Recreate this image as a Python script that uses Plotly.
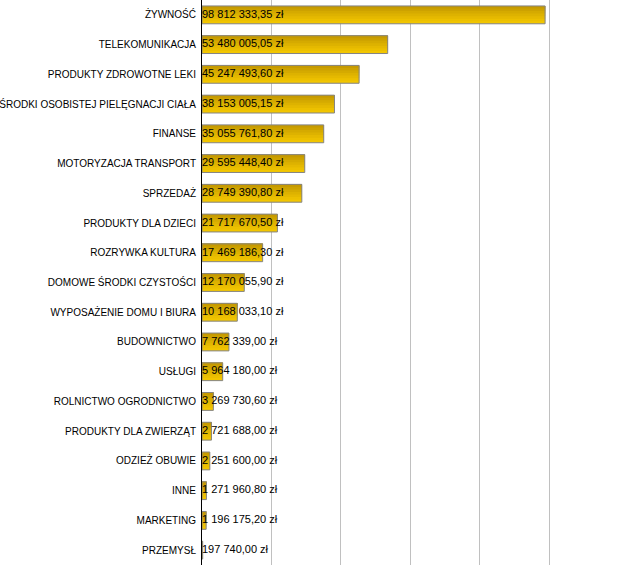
import plotly.graph_objects as go

categories = ["ŻYWNOŚĆ", "TELEKOMUNIKACJA", "PRODUKTY ZDROWOTNE LEKI",
              "ŚRODKI OSOBISTEJ PIELĘGNACJI CIAŁA", "FINANSE",
              "MOTORYZACJA TRANSPORT", "SPRZEDAŻ", "PRODUKTY DLA DZIECI",
              "ROZRYWKA KULTURA", "DOMOWE ŚRODKI CZYSTOŚCI",
              "WYPOSAŻENIE DOMU I BIURA", "BUDOWNICTWO", "USŁUGI",
              "ROLNICTWO OGRODNICTWO", "PRODUKTY DLA ZWIERZĄT", "ODZIEŻ OBUWIE",
              "INNE", "MARKETING", "PRZEMYSŁ"]
values = [98812333.35, 53480005.05, 45247493.60, 38153005.15, 35055761.80,
          29595448.40, 28749390.80, 21717670.50, 17469186.30, 12170055.90,
          10168033.10, 7762339.00, 5964180.00, 3269730.60, 2721688.00,
          2251600.00, 1271960.80, 1196175.20, 197740.00]
labels = ["98 812 333,35 zł", "53 480 005,05 zł", "45 247 493,60 zł",
          "38 153 005,15 zł", "35 055 761,80 zł", "29 595 448,40 zł",
          "28 749 390,80 zł", "21 717 670,50 zł", "17 469 186,30 zł",
          "12 170 055,90 zł", "10 168 033,10 zł", "7 762 339,00 zł",
          "5 964 180,00 zł", "3 269 730,60 zł", "2 721 688,00 zł",
          "2 251 600,00 zł", "1 271 960,80 zł", "1 196 175,20 zł",
          "197 740,00 zł"]

BAR_W = 0.6
# gradient steps, light (bottom) -> dark (top)
grad = ["#f2c600", "#ecc000", "#e5b900", "#ddb200", "#d5aa00", "#cda200", "#c69a00"]

fig = go.Figure()
n = len(grad)
for i, col in enumerate(grad):
    w = BAR_W * (n - i) / n
    fig.add_trace(go.Bar(
        x=values, y=categories, orientation="h",
        width=w, offset=-BAR_W / 2,
        marker=dict(color=col, line=dict(width=0)),
        hoverinfo="skip", showlegend=False))
# border
fig.add_trace(go.Bar(
    x=values, y=categories, orientation="h",
    width=BAR_W, offset=-BAR_W / 2,
    marker=dict(color="rgba(0,0,0,0)", line=dict(color="#848484", width=1)),
    hoverinfo="skip", showlegend=False))
# value labels
fig.add_trace(go.Scatter(
    x=[0] * len(values), y=categories, mode="text", text=labels,
    textposition="middle right",
    textfont=dict(family="Liberation Sans, Arial, sans-serif", size=11, color="black"),
    cliponaxis=False, hoverinfo="skip", showlegend=False))

fig.update_layout(
    width=619, height=567,
    margin=dict(l=202, r=0, t=0, b=2),
    barmode="overlay",
    plot_bgcolor="white", paper_bgcolor="white",
    font=dict(family="Liberation Sans, Arial, sans-serif", size=10, color="black"),
    xaxis=dict(range=[0, 120.1e6], showgrid=True, gridcolor="#c0c0c0", gridwidth=1,
               dtick=20e6, tick0=0, showticklabels=False, zeroline=False,
               showline=False, ticks="", automargin=False),
    yaxis=dict(type="category", categoryorder="array", categoryarray=categories,
               range=[len(categories) - 0.5, -0.5], autorange=False,
               showline=True, linecolor="black", linewidth=1,
               showgrid=False, ticks="", ticklabelstandoff=3, automargin=False,
               tickfont=dict(family="Liberation Sans, Arial, sans-serif", size=10)),
)

fig.write_html("out.html", config={"displayModeBar": False},
               post_script="document.body.style.margin='0';document.body.style.overflow='hidden';")
